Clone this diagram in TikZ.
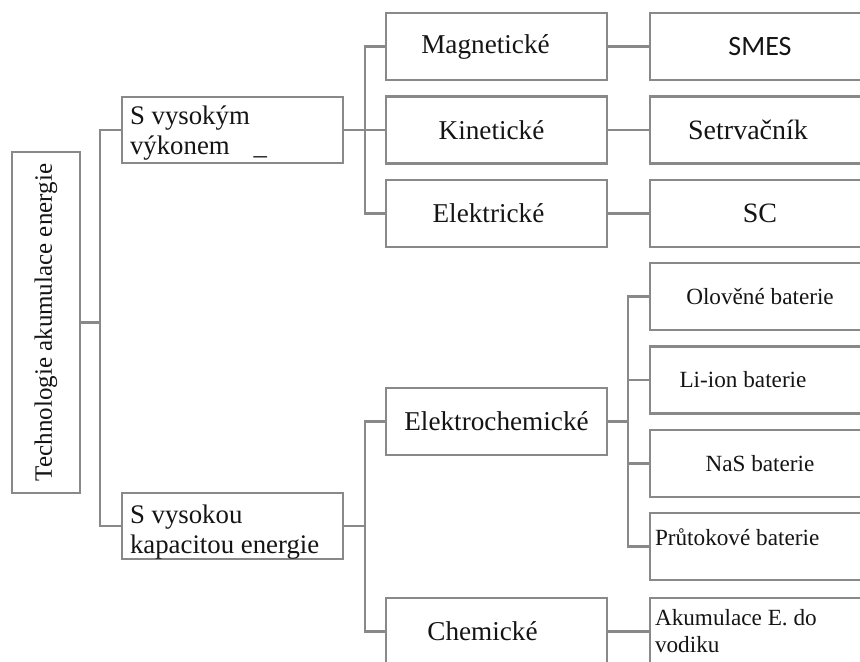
\documentclass[tikz,border=0pt]{standalone}
\usepackage{fontspec}
\usepackage{graphicx}
\setmainfont{Liberation Serif}
\newfontfamily\calibri{Carlito}
\definecolor{linegray}{RGB}{137,137,137}
\definecolor{inkblack}{RGB}{20,20,20}

\tikzset{
  box/.style={draw=linegray, line width=1.2pt, rectangle, inner sep=0pt,
    outer sep=0pt, text=inkblack},
  rootbox/.style={box, minimum width=34pt, minimum height=170.5pt,
    font=\fontsize{12.5}{15}\selectfont},
  groupbox/.style={box, minimum width=110.5pt, minimum height=33pt,
    text width=102.5pt, align=flush left, inner xsep=4pt,
    font=\fontsize{13.4}{15}\selectfont},
  midbox/.style={box, minimum width=110.5pt, minimum height=33.5pt,
    font=\fontsize{13.6}{16}\selectfont},
  techbox/.style={box, minimum width=110pt, minimum height=33.5pt,
    font=\fontsize{14}{16}\selectfont},
  battbox/.style={box, minimum width=110pt, minimum height=33.5pt,
    font=\fontsize{11.6}{13.5}\selectfont},
  leftbatt/.style={battbox, text width=105pt, align=flush left, inner xsep=2.5pt},
  conn/.style={draw=linegray, line width=1.2pt},
}

\begin{document}
\begin{tikzpicture}[x=0.5pt, y=-0.5pt]
\useasboundingbox (0,0) rectangle (860,661);
\clip (0,0) rectangle (860,661);

% root
\node[rootbox] (root) at (46,322.5) {\rotatebox{90}{Technologie akumulace energie}};

% first level
\node[groupbox] (b1) at (232.5,130) {\rule{0pt}{12pt}S vysokým\\výkonem\hspace{12pt}\_};
\node[groupbox] (b2) at (232.5,526) {\rule{0pt}{15pt}S vysokou\\kapacitou energie};

% high power branch
\node[midbox] (mag) at (496.5,46.5) {Magnetické\kern11pt};
\node[midbox] (kin) at (496.5,130)  {Kinetické\kern5pt};
\node[midbox] (ele) at (496.5,213.5) {Elektrické\kern8pt};

\node[techbox, font=\fontsize{14}{16}\calibri] (smes) at (760,46.5) {SMES};
\node[techbox] (setr) at (760,130) {Setrvačník\kern12pt};
\node[techbox] (sc) at (760,213.5) {SC};

% high energy branch
\node[midbox] (elch) at (496.5,421.5) {Elektrochemické};
\node[midbox] (chem) at (496.5,631.5) {Chemické\kern14pt};

\node[battbox] (olo) at (760,296.5) {Olověné baterie};
\node[battbox] (li)  at (760,380)   {Li-ion baterie\kern17pt};
\node[battbox] (nas) at (760,463.5) {NaS baterie};
\node[leftbatt, text depth=9pt] (pru) at (760,546.5) {Průtokové baterie};
\node[leftbatt] (aku) at (760,631.5) {Akumulace E. do\\vodiku};

% connectors
\draw[conn] (root.east) -- ++(20,0) |- (b1.west);
\draw[conn] (root.east) -- ++(20,0) |- (b2.west);

\draw[conn] (b1.east) -- ++(22,0) |- (mag.west);
\draw[conn] (b1.east) -- (kin.west);
\draw[conn] (b1.east) -- ++(22,0) |- (ele.west);

\draw[conn] (mag.east) -- (smes.west);
\draw[conn] (kin.east) -- (setr.west);
\draw[conn] (ele.east) -- (sc.west);

\draw[conn] (b2.east) -- ++(22,0) |- (elch.west);
\draw[conn] (b2.east) -- ++(22,0) |- (chem.west);

\draw[conn] (elch.east) -- ++(21,0) |- (olo.west);
\draw[conn] (elch.east) -- ++(21,0) |- (li.west);
\draw[conn] (elch.east) -- ++(21,0) |- (nas.west);
\draw[conn] (elch.east) -- ++(21,0) |- (pru.west);

\draw[conn] (chem.east) -- (aku.west);
\end{tikzpicture}
\end{document}
